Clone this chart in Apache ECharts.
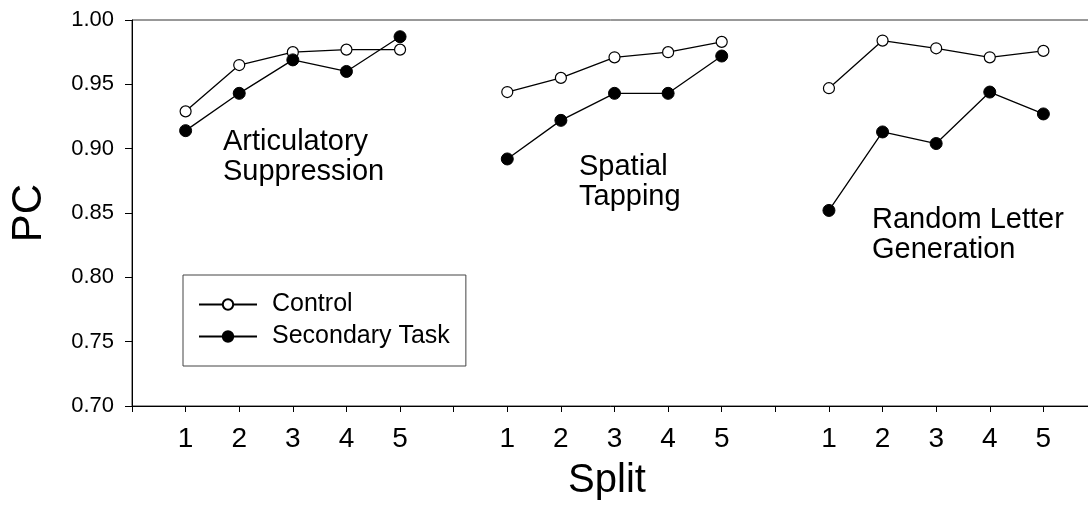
<!DOCTYPE html>
<html>
<head>
<meta charset="utf-8">
<script src="https://cdn.jsdelivr.net/npm/echarts@6/dist/echarts.min.js"></script>
<style>
  html, body { margin: 0; padding: 0; background: #fff; }
  #chart { width: 1088px; height: 507px; }
</style>
</head>
<body>
<div id="chart"></div>
<script>
// ---- data ----
const splitLabels = ['1', '2', '3', '4', '5'];
const taskGroups = ['Articulatory\nSuppression', 'Spatial\nTapping', 'Random Letter\nGeneration'];
const xTickLabels = ['', '1', '2', '3', '4', '5', '', '1', '2', '3', '4', '5', '', '1', '2', '3', '4', '5', ''];
const yTickValues = [0.70, 0.75, 0.80, 0.85, 0.90, 0.95, 1.00];

const controlArticulatory   = [0.929, 0.965, 0.975, 0.977, 0.977];
const secondaryArticulatory = [0.914, 0.943, 0.969, 0.960, 0.987];
const controlSpatial        = [0.944, 0.955, 0.971, 0.975, 0.983];
const secondarySpatial      = [0.892, 0.922, 0.943, 0.943, 0.972];
const controlRandom         = [0.947, 0.984, 0.978, 0.971, 0.976];
const secondaryRandom       = [0.852, 0.913, 0.904, 0.944, 0.927];

// ---- build series data (groups separated by a break) ----
function buildSeries(groups) {
  const out = [];
  groups.forEach((vals, g) => {
    vals.forEach((v, i) => out.push([1 + g * 6 + i, v]));
    if (g < groups.length - 1) out.push([6 + g * 6, '-']);
  });
  return out;
}
const controlData = buildSeries([controlArticulatory, controlSpatial, controlRandom]);
const secondaryData = buildSeries([secondaryArticulatory, secondarySpatial, secondaryRandom]);

const FONT = "'Liberation Sans', Arial, Helvetica, sans-serif";
const chart = echarts.init(document.getElementById('chart'), null, { renderer: 'canvas' });

const option = {
  animation: false,
  backgroundColor: '#fff',
  textStyle: { fontFamily: FONT, color: '#000' },
  grid: {
    left: 132, top: 20, width: 965, height: 386,
    outerBoundsMode: 'none', containLabel: false,
    show: true, borderColor: '#333', borderWidth: 1, backgroundColor: 'transparent'
  },
  xAxis: {
    type: 'value',
    min: 0, max: 18, interval: 1,
    name: 'Split',
    nameLocation: 'middle',
    nameGap: 55,
    nameTextStyle: { fontSize: 40, fontFamily: FONT, color: '#000', padding: [0, 15, 0, 0] },
    axisLine: { show: true, onZero: false, lineStyle: { color: '#000', width: 1 } },
    axisTick: { show: true, length: 6, inside: false, lineStyle: { color: '#000', width: 1 } },
    axisLabel: {
      margin: 19, fontSize: 28, fontFamily: FONT, color: '#000',
      showMinLabel: true, showMaxLabel: true,
      formatter: (v) => xTickLabels[Math.round(v)] || ''
    },
    splitLine: { show: false }
  },
  yAxis: {
    type: 'value',
    min: 0.70, max: 1.00, interval: 0.05,
    name: 'PC',
    nameLocation: 'middle',
    nameGap: 82,
    nameTextStyle: { fontSize: 42, fontFamily: FONT, color: '#000' },
    axisLine: { show: true, onZero: false, lineStyle: { color: '#000', width: 1 } },
    axisTick: { show: true, length: 7, inside: false, lineStyle: { color: '#000', width: 1 } },
    axisLabel: { margin: 18, fontSize: 22, fontFamily: FONT, color: '#000', formatter: (v) => v.toFixed(2) },
    splitLine: { show: false }
  },
  legend: {
    orient: 'vertical',
    left: 183, top: 275,
    padding: [17, 16, 17, 15],
    itemGap: 7,
    itemWidth: 58,
    itemHeight: 13,
    borderColor: '#444', borderWidth: 1,
    backgroundColor: '#fff',
    selectedMode: false,
    textStyle: { fontSize: 25, fontFamily: FONT, color: '#000', padding: [0, 0, 0, 10] },
    data: ['Control', 'Secondary Task']
  },
  series: [
    {
      name: 'Control', type: 'line', data: controlData,
      connectNulls: false,
      symbol: 'circle', symbolSize: 11,
      lineStyle: { color: '#000', width: 1.3 },
      itemStyle: { color: '#fff', borderColor: '#000', borderWidth: 1.2 },
      emphasis: { disabled: true }
    },
    {
      name: 'Secondary Task', type: 'line', data: secondaryData,
      connectNulls: false,
      symbol: 'circle', symbolSize: 12,
      lineStyle: { color: '#000', width: 1.3 },
      itemStyle: { color: '#000', borderColor: '#000', borderWidth: 1 },
      emphasis: { disabled: true }
    }
  ],
  graphic: [
    { type: 'text', left: 223, top: 127, style: { text: taskGroups[0], font: '29px ' + FONT, lineHeight: 30, fill: '#000' } },
    { type: 'text', left: 579, top: 152, style: { text: taskGroups[1], font: '29px ' + FONT, lineHeight: 30, fill: '#000' } },
    { type: 'text', left: 872, top: 205, style: { text: taskGroups[2], font: '29px ' + FONT, lineHeight: 30, fill: '#000' } }
  ]
};
chart.setOption(option);
</script>
</body>
</html>
